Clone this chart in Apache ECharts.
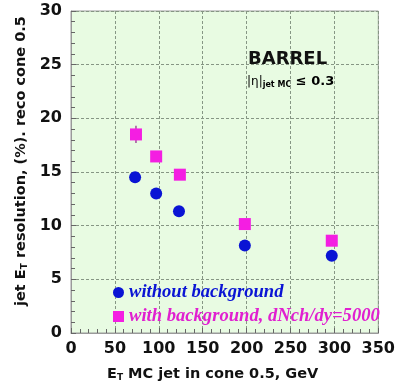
<!DOCTYPE html>
<html>
<head>
<meta charset="utf-8">
<script src="https://cdn.jsdelivr.net/npm/echarts@6/dist/echarts.min.js"></script>
<style>
  html, body { margin: 0; padding: 0; background: #ffffff; }
  #chart { width: 398px; height: 387px; }
</style>
</head>
<body>
<div id="chart"></div>
<script>
// Jet E_T in cone 0.5 (GeV)
const etNoBkg = [73, 97, 123, 198, 297];
const etBkg = [74, 97, 124, 198, 297];
// Resolution (%) without background
const resNoBkg = [14.5, 13.0, 11.35, 8.15, 7.2];
// Resolution (%) with background, dNch/dy = 5000
const resBkg = [18.5, 16.45, 14.75, 10.15, 8.6];
const errBkg = [0.8, 0.35, 0.35, 0.3, 0.3];

const xTicks = [0, 50, 100, 150, 200, 250, 300, 350];
const yTicks = [0, 5, 10, 15, 20, 25, 30];

const nameNoBkg = 'without background';
const nameBkg = 'with background, dNch/dy=5000';

const blue = '#0a14d4';
const magenta = '#f41ee2';
const tickFont = 'DejaVu Sans';

const chart = echarts.init(document.getElementById('chart'));

const titleRich = {
  m: { fontFamily: tickFont, fontWeight: 'bold', fontSize: 14.5, color: '#111' },
  s: { fontFamily: tickFont, fontWeight: 'bold', fontSize: 9, color: '#111', padding: [7, 0, 0, 0] }
};

const tickStyle = { color: '#666', width: 1 };

chart.setOption({
  animation: false,
  backgroundColor: '#ffffff',
  grid: {
    left: 71, right: 19, top: 11, bottom: 51,
    show: true, backgroundColor: '#e8fbe2', borderColor: '#9a9a9a', borderWidth: 1
  },
  xAxis: {
    type: 'value',
    min: xTicks[0], max: xTicks[xTicks.length - 1], interval: 50,
    axisLine: { show: true, lineStyle: { color: '#9a9a9a' } },
    axisTick: { show: true, inside: true, length: 5, lineStyle: tickStyle },
    minorTick: { show: true, splitNumber: 5, length: 4, lineStyle: tickStyle },
    splitLine: { show: true, lineStyle: { color: '#869684', type: [3, 2], width: 1 } },
    axisLabel: { fontFamily: tickFont, fontWeight: 'bold', fontSize: 16, color: '#111', margin: 8 },
    name: '{m|E}{s|T}{m| MC jet in cone 0.5, GeV}',
    nameLocation: 'middle', nameGap: 33,
    nameTextStyle: { rich: titleRich, padding: [0, 24, 0, 0] }
  },
  yAxis: {
    type: 'value',
    min: yTicks[0], max: yTicks[yTicks.length - 1], interval: 5,
    axisLine: { show: true, lineStyle: { color: '#9a9a9a' } },
    axisTick: { show: true, inside: true, length: 5, lineStyle: tickStyle },
    minorTick: { show: true, splitNumber: 5, length: 4, lineStyle: tickStyle },
    splitLine: { show: true, lineStyle: { color: '#869684', type: [3, 2], width: 1 } },
    axisLabel: { fontFamily: tickFont, fontWeight: 'bold', fontSize: 16, color: '#111', margin: 9 },
    name: '{m|jet E}{s|T}{m| resolution, (%). reco cone 0.5}',
    nameLocation: 'middle', nameGap: 36,
    nameTextStyle: { rich: titleRich, padding: [0, 0, 0, 22] }
  },
  legend: {
    orient: 'vertical', left: 108, top: 278, itemGap: 5,
    itemWidth: 11, itemHeight: 11,
    textStyle: { fontFamily: 'Liberation Serif', fontStyle: 'italic', fontWeight: 'bold', fontSize: 18.6 },
    data: [
      { name: nameNoBkg, icon: 'circle', textStyle: { color: blue } },
      { name: nameBkg, icon: 'rect', textStyle: { color: '#e020d0' } }
    ]
  },
  graphic: [
    { type: 'text', left: 248, top: 50,
      style: { text: 'BARREL', fontFamily: tickFont, fontWeight: 'bold', fontSize: 18, fill: '#111' } },
    { type: 'text', left: 247, top: 75,
      style: {
        text: '{n||η|}{s|jet MC}{b| ≤ 0.3}',
        rich: {
          n: { fontFamily: tickFont, fontSize: 12, color: '#222' },
          s: { fontFamily: tickFont, fontWeight: 'bold', fontSize: 8, color: '#222', padding: [6, 0, 0, 0] },
          b: { fontFamily: tickFont, fontWeight: 'bold', fontSize: 13, color: '#111' }
        }
      } }
  ],
  series: [
    {
      name: nameBkg + ' err', type: 'custom',
      data: etBkg.map((x, i) => [x, resBkg[i] - errBkg[i], resBkg[i] + errBkg[i]]),
      renderItem: function (params, api) {
        const lo = api.coord([api.value(0), api.value(1)]);
        const hi = api.coord([api.value(0), api.value(2)]);
        return {
          type: 'line', shape: { x1: lo[0], y1: lo[1], x2: hi[0], y2: hi[1] },
          style: { stroke: '#a04a9a', lineWidth: 1.5 }
        };
      },
      silent: true,
      z: 1
    },
    {
      name: nameNoBkg, type: 'scatter',
      symbol: 'circle', symbolSize: 12,
      itemStyle: { color: blue, opacity: 1 },
      data: etNoBkg.map((x, i) => [x, resNoBkg[i]]),
      z: 3
    },
    {
      name: nameBkg, type: 'scatter',
      symbol: 'rect', symbolSize: 12,
      itemStyle: { color: magenta, opacity: 1 },
      data: etBkg.map((x, i) => [x, resBkg[i]]),
      z: 3
    }
  ]
});
</script>
</body>
</html>
